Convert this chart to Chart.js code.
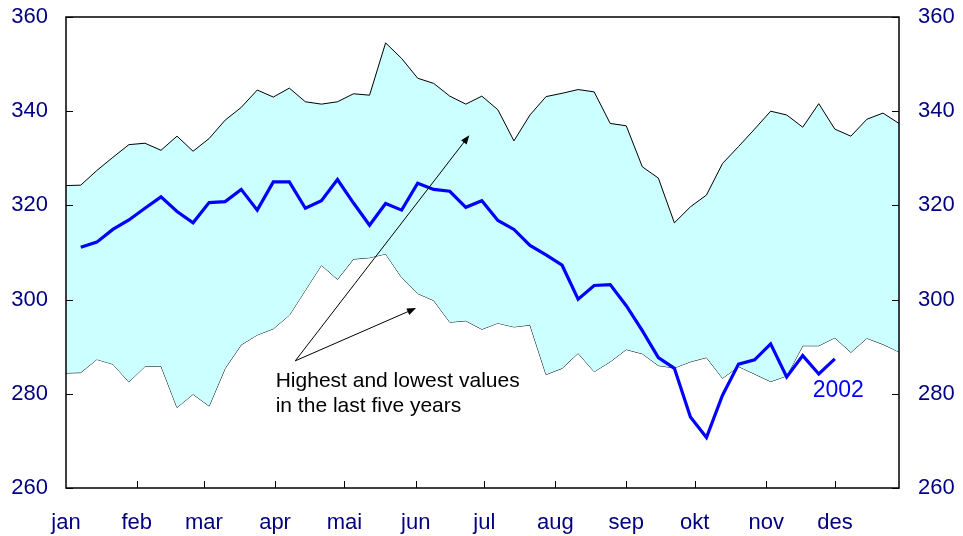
<!DOCTYPE html>
<html>
<head>
<meta charset="utf-8">
<script src="https://cdn.jsdelivr.net/npm/chart.js@4.4.1/dist/chart.umd.min.js"></script>
<style>
  html, body { margin: 0; padding: 0; background: #fff; }
</style>
</head>
<body>
<canvas id="chart" width="963" height="536"></canvas>
<script>
// weekly stock level, week 0 sits just left of the frame
const highest = [324.2, 324.3, 327.4, 330.2, 332.9, 333.2, 331.7, 334.7, 331.5, 334.2, 338.1,
  340.8, 344.5, 343.0, 344.9, 342.0, 341.5, 342.0, 343.7, 343.4, 354.5,
  351.2, 347.0, 345.9, 343.2, 341.5, 343.2, 340.3, 333.7, 339.2, 343.1,
  343.8, 344.6, 344.1, 337.4, 336.9, 328.2, 325.8, 316.3, 319.7, 322.2,
  328.9, 332.5, 336.2, 340.0, 339.2, 336.6, 341.6, 336.2, 334.7, 338.3,
  339.6, 337.4];
const lowest = [284.4, 284.5, 287.3, 286.3, 282.5, 285.8, 285.9, 277.1, 279.9, 277.4, 285.4,
  290.4, 292.5, 293.8, 296.7, 302.0, 307.3, 304.3, 308.6, 308.9, 309.7,
  304.7, 301.3, 299.8, 295.2, 295.5, 293.7, 295.0, 294.2, 294.6, 284.1,
  285.4, 288.6, 284.7, 286.8, 289.4, 288.5, 286.0, 285.5, 286.8, 287.7,
  283.3, 285.8, 284.2, 282.6, 283.8, 290.2, 290.2, 291.9, 288.8, 291.8,
  290.5, 288.9];
// 2002 starts in week 1
const values2002 = [311.1, 312.2, 314.9, 316.9, 319.4, 321.8, 318.7, 316.3, 320.6, 320.8,
  323.4, 319.0, 325.0, 325.0, 319.4, 321.0, 325.5, 320.5, 315.8, 320.4,
  319.0, 324.7, 323.4, 323.0, 319.6, 321.0, 316.8, 314.9, 311.5, 309.5,
  307.3, 300.1, 303.0, 303.2, 298.7, 293.4, 287.7, 285.4, 275.1, 270.7,
  279.7, 286.3, 287.2, 290.6, 283.6, 288.1, 284.2, 287.4];

const months = ['jan', 'feb', 'mar', 'apr', 'mai', 'jun', 'jul', 'aug', 'sep', 'okt', 'nov', 'des'];
const monthWeeks = [0.08, 4.49, 8.68, 13.11, 17.43, 21.88, 26.15, 30.58, 35.0, 39.27, 43.73, 48.01];
const yTicks = [260, 280, 300, 320, 340, 360];

const FONT = "'Liberation Sans', Arial, sans-serif";
const NAVY = '#000080';

const toPoints = (arr, start) => arr.map((v, i) => ({ x: i + start, y: v }));

// fixed axis sizes, no extra room for overhanging labels
const fixWidth = w => scale => { scale.width = w; scale.paddingTop = 0; scale.paddingBottom = 0; };

const frameAndNotes = {
  id: 'frameAndNotes',
  afterDatasetsDraw(chart) {
    const { ctx, chartArea: a, scales: { x, y } } = chart;
    ctx.save();

    // inner tick marks
    ctx.strokeStyle = '#000';
    ctx.lineWidth = 1;
    ctx.beginPath();
    yTicks.forEach(v => {
      const py = Math.round(y.getPixelForValue(v)) + 0.5;
      ctx.moveTo(a.left, py); ctx.lineTo(a.left + 7, py);
      ctx.moveTo(a.right, py); ctx.lineTo(a.right - 7, py);
    });
    monthWeeks.slice(1).forEach(w => {
      const px = Math.round(x.getPixelForValue(w)) + 0.5;
      ctx.moveTo(px, a.bottom); ctx.lineTo(px, a.bottom - 7);
    });
    ctx.stroke();

    // frame
    ctx.lineWidth = 1.5;
    ctx.strokeRect(a.left, a.top, a.right - a.left, a.bottom - a.top);

    // arrows from the note to the two edges of the band
    const from = { x: x.getPixelForValue(14.37), y: y.getPixelForValue(287.0) };
    const targets = [[25.22, 334.9], [21.9, 298.2]];
    ctx.lineWidth = 1;
    ctx.fillStyle = '#000';
    targets.forEach(([tw, tv]) => {
      const tx = x.getPixelForValue(tw), ty = y.getPixelForValue(tv);
      const ang = Math.atan2(ty - from.y, tx - from.x);
      ctx.beginPath();
      ctx.moveTo(from.x, from.y);
      ctx.lineTo(tx - 6 * Math.cos(ang), ty - 6 * Math.sin(ang));
      ctx.stroke();
      ctx.beginPath();
      ctx.moveTo(tx, ty);
      ctx.lineTo(tx - 9 * Math.cos(ang) + 3.5 * Math.sin(ang), ty - 9 * Math.sin(ang) - 3.5 * Math.cos(ang));
      ctx.lineTo(tx - 9 * Math.cos(ang) - 3.5 * Math.sin(ang), ty - 9 * Math.sin(ang) + 3.5 * Math.cos(ang));
      ctx.closePath();
      ctx.fill();
    });

    ctx.font = '21px ' + FONT;
    ctx.textAlign = 'left';
    ctx.textBaseline = 'alphabetic';
    const tx = x.getPixelForValue(13.15), ty = y.getPixelForValue(281.5);
    ctx.fillText('Highest and lowest values', tx, ty);
    ctx.fillText('in the last five years', tx, ty + 25.5);

    ctx.font = '23px ' + FONT;
    ctx.fillStyle = '#0000ff';
    ctx.fillText('2002', x.getPixelForValue(46.62), y.getPixelForValue(279.4));

    ctx.restore();
  }
};

new Chart(document.getElementById('chart').getContext('2d'), {
  type: 'line',
  data: {
    datasets: [
      {
        label: '2002',
        data: toPoints(values2002, 1),
        borderColor: '#0000ff',
        borderWidth: 3.2,
        pointRadius: 0,
        fill: false,
        yAxisID: 'y'
      },
      {
        label: 'highest',
        data: toPoints(highest, 0),
        borderColor: '#000',
        borderWidth: 1,
        pointRadius: 0,
        fill: '+1',
        backgroundColor: '#ccffff',
        yAxisID: 'y'
      },
      {
        label: 'lowest',
        data: toPoints(lowest, 0),
        borderColor: '#000',
        borderWidth: 1,
        pointRadius: 0,
        fill: false,
        yAxisID: 'y'
      }
    ]
  },
  options: {
    responsive: false,
    animation: false,
    layout: { padding: { top: 17, left: 0, right: 0, bottom: 0 } },
    plugins: {
      legend: { display: false },
      tooltip: { enabled: false }
    },
    elements: { line: { tension: 0 } },
    scales: {
      x: {
        type: 'linear',
        min: 0.08,
        max: 52,
        grid: { display: false },
        border: { display: false },
        afterBuildTicks: scale => { scale.ticks = monthWeeks.map(v => ({ value: v })); },
        afterFit: scale => { scale.height = 48; scale.paddingLeft = 0; scale.paddingRight = 0; },
        ticks: {
          autoSkip: false,
          maxRotation: 0,
          padding: 14,
          color: NAVY,
          font: { family: FONT, size: 22 },
          callback: (v, i) => months[i]
        }
      },
      y: {
        position: 'left',
        min: 260,
        max: 360,
        grid: { display: false },
        border: { display: false },
        afterFit: fixWidth(66),
        ticks: { stepSize: 20, padding: 10, color: NAVY, font: { family: FONT, size: 22 } }
      },
      y2: {
        position: 'right',
        min: 260,
        max: 360,
        grid: { display: false },
        border: { display: false },
        afterFit: fixWidth(64),
        ticks: { stepSize: 20, padding: 11, color: NAVY, font: { family: FONT, size: 22 } }
      }
    }
  },
  plugins: [frameAndNotes]
});
</script>
</body>
</html>
